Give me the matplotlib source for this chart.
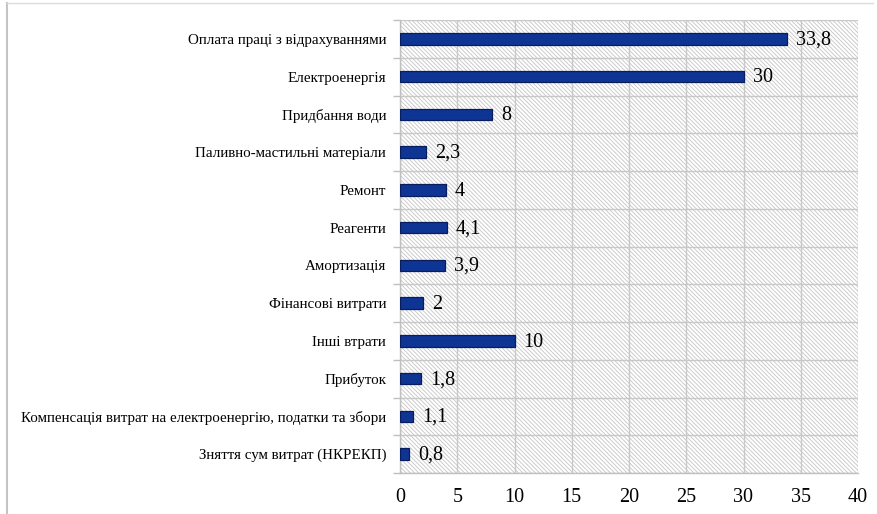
import matplotlib
matplotlib.use("Agg")
import matplotlib.pyplot as plt
from matplotlib.patches import Rectangle
from matplotlib.lines import Line2D
import numpy as np

categories = ['Оплата праці з відрахуваннями',
              'Електроенергія',
              'Придбання води',
              'Паливно-мастильні матеріали',
              'Ремонт',
              'Реагенти',
              'Амортизація',
              'Фінансові витрати',
              'Інші втрати',
              'Прибуток',
              'Компенсація витрат на електроенергію, податки та збори',
              'Зняття сум витрат (НКРЕКП)']
values = [33.8, 30, 8, 2.3, 4, 4.1, 3.9, 2, 10, 1.8, 1.1, 0.8]
value_labels = ['33,8', '30', '8', '2,3', '4', '4,1', '3,9', '2', '10', '1,8', '1,1', '0,8']
xticks = [0, 5, 10, 15, 20, 25, 30, 35, 40]

plt.rcParams['font.family'] = ['Liberation Serif', 'DejaVu Serif']
plt.rcParams['hatch.linewidth'] = 0.6

fig = plt.figure(figsize=(8.77, 5.14), dpi=100)
ax = fig.add_axes([400/877, 1-473/514, 458/877, 453/514])

# thin grey frame around the figure
fig.add_artist(Line2D([7/877, 7/877], [0, 1-3/514], color='#c4c4c4', lw=1.5,
                      transform=fig.transFigure))
fig.add_artist(Line2D([7/877, 873/877], [1-3/514, 1-3/514], color='#dcdcdc', lw=1,
                      transform=fig.transFigure))

# hatched plot background
ax.patch.set_visible(False)
bg = Rectangle((0, 0), 1, 1, transform=ax.transAxes, facecolor='white',
               edgecolor='#c4c4c4', hatch='\\' * 8, lw=0, zorder=0)
ax.add_patch(bg)

n = len(categories)
y = np.arange(n)
ax.barh(y, values, height=0.3, color='#0e3594', edgecolor='#071d5c',
        linewidth=0.9, zorder=3)

for yi, v, lab in zip(y, values, value_labels):
    ax.text(v + 0.8, yi + 0.03, lab, va='center', ha='left', fontsize=14.5, zorder=4)

ax.set_xlim(0, 40)
ax.set_ylim(n - 0.5, -0.5)
ax.set_xticks(xticks)
ax.set_xticklabels([str(t) for t in xticks], fontsize=14.5)
ax.set_yticks(y)
ax.set_yticklabels(categories, fontsize=10.8)
ax.set_yticks(np.arange(n + 1) - 0.5, minor=True)

ax.tick_params(axis='y', which='major', length=0, pad=10)
ax.tick_params(axis='y', which='minor', length=5, color='#bfbfbf', width=1)
ax.tick_params(axis='x', length=0, pad=11)

ax.grid(axis='x', color='#c8c8c8', lw=1, zorder=1)
ax.grid(axis='y', which='minor', color='#c8c8c8', lw=1, zorder=1)
ax.set_axisbelow(True)

for s in ['top', 'right']:
    ax.spines[s].set_visible(False)
for s in ['left', 'bottom']:
    ax.spines[s].set_color('#bfbfbf')
    ax.spines[s].set_linewidth(1)

fig.savefig('out.png', dpi=100)
